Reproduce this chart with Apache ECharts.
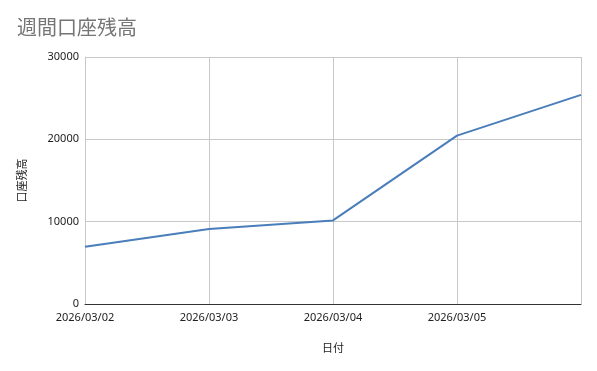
<!DOCTYPE html>
<html><head><meta charset="utf-8">
<script src="https://cdn.jsdelivr.net/npm/echarts@6/dist/echarts.min.js"></script>
<style>html,body{margin:0;padding:0;background:#fff}#c{width:597px;height:371px}</style>
</head><body><div id="c"></div>
<script>
var titleText = '週間口座残高';
var xName = '日付';
var yName = '口座残高';
var categories = ['2026/03/02','2026/03/03','2026/03/04','2026/03/05','2026/03/06'];
var balances = [6950, 9100, 10150, 20450, 25400];
var yTicks = { min: 0, max: 30000, interval: 10000 };

var chart = echarts.init(document.getElementById('c'));
chart.setOption({
  animation: false,
  backgroundColor: '#fff',
  title: { text: titleText, left: 12, top: 12,
    textStyle: { fontFamily: 'Noto Sans CJK JP', fontSize: 20, fontWeight: 'normal', color: '#757575' } },
  grid: { left: 85, right: 16, top: 57, bottom: 67, containLabel: false },
  xAxis: {
    type: 'category', data: categories, boundaryGap: false,
    name: xName, nameLocation: 'middle', nameGap: 38,
    nameTextStyle: { fontFamily: 'Noto Sans CJK JP', fontSize: 11, color: '#222' },
    axisLine: { lineStyle: { color: '#333', width: 1 } },
    axisTick: { show: false },
    axisLabel: { interval: function (i) { return i < categories.length - 1; },
      fontFamily: 'Noto Sans', fontSize: 11, color: '#222', margin: 8 },
    splitLine: { show: true, interval: 0, lineStyle: { color: '#c8c8c8', width: 1 } }
  },
  yAxis: {
    type: 'value', min: yTicks.min, max: yTicks.max, interval: yTicks.interval,
    name: yName, nameLocation: 'middle', nameGap: 58, nameRotate: 90,
    nameTextStyle: { fontFamily: 'Noto Sans CJK JP', fontSize: 11, color: '#222' },
    axisLine: { show: true, lineStyle: { color: '#c8c8c8' } },
    axisTick: { show: false },
    axisLabel: { formatter: function (v) { return String(v); },
      fontFamily: 'Noto Sans', fontSize: 11, color: '#222', margin: 6 },
    splitLine: { lineStyle: { color: '#c8c8c8', width: 1 } }
  },
  series: [{
    type: 'line', data: balances, showSymbol: false, symbol: 'none',
    lineStyle: { color: '#4a7ebb', width: 2 }, itemStyle: { color: '#4a7ebb' }
  }]
});
</script></body></html>
